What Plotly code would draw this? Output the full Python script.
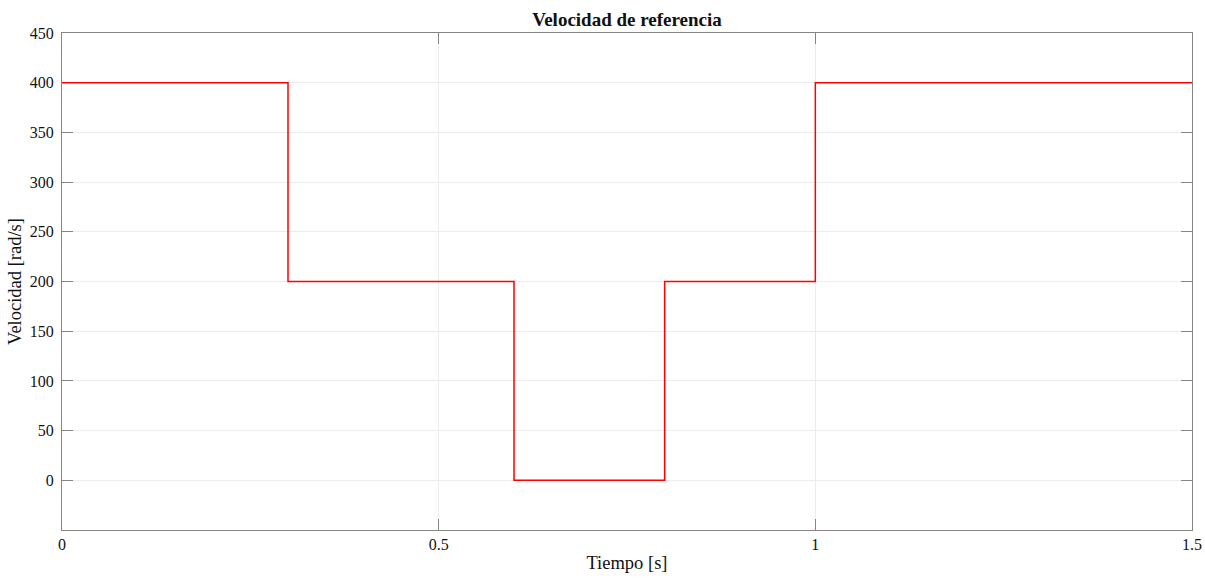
import plotly.graph_objects as go

# Reference speed profile: step changes at these instants
tiempo = [0.0, 0.3, 0.6, 0.8, 1.0, 1.5]
velocidad = [400, 200, 0, 200, 400, 400]

y_ticks = [0, 50, 100, 150, 200, 250, 300, 350, 400, 450]
x_ticks = [0, 0.5, 1, 1.5]
x_tick_text = ["0", "0.5", "1", "1.5"]

font_family = "Liberation Serif"
axis_color = "#858585"
grid_color = "#ececec"

fig = go.Figure()
fig.add_trace(go.Scatter(
    x=tiempo, y=velocidad,
    mode="lines",
    line=dict(color="#ff0000", width=1.5, shape="hv"),
    showlegend=False,
    cliponaxis=False,
))

fig.update_layout(
    width=1205, height=578,
    margin=dict(l=62, r=13, t=33, b=48, autoexpand=False),
    paper_bgcolor="white",
    plot_bgcolor="white",
    font=dict(family=font_family, size=16, color="#111111"),
    title=dict(
        text="<b>Velocidad de referencia</b>",
        x=0.5, xanchor="center", xref="paper",
        y=1 - 19 / 578, yanchor="middle",
        font=dict(family=font_family, size=19, color="#111111"),
    ),
)

fig.update_xaxes(
    range=[0, 1.5],
    tickvals=x_ticks, ticktext=x_tick_text,
    ticks="inside", ticklen=11, tickwidth=1, tickcolor=axis_color,
    showline=True, linecolor=axis_color, linewidth=1, mirror="ticks",
    showgrid=True, gridcolor=grid_color, gridwidth=1,
    zeroline=False, automargin=False, layer="below traces",
    tickfont=dict(family=font_family, size=16),
    title=dict(text="Tiempo [s]", font=dict(family=font_family, size=18.5), standoff=3),
)
fig.update_yaxes(
    range=[-50, 450],
    tickvals=y_ticks,
    ticks="inside", ticklen=11, tickwidth=1, tickcolor=axis_color,
    showline=True, linecolor=axis_color, linewidth=1, mirror="ticks",
    showgrid=True, gridcolor=grid_color, gridwidth=1,
    zeroline=False, automargin=False, layer="below traces",
    tickfont=dict(family=font_family, size=16),
    ticklabelstandoff=4,
    title=dict(text="Velocidad [rad/s]", font=dict(family=font_family, size=18.5), standoff=3),
)

fig.write_html("out.html")
